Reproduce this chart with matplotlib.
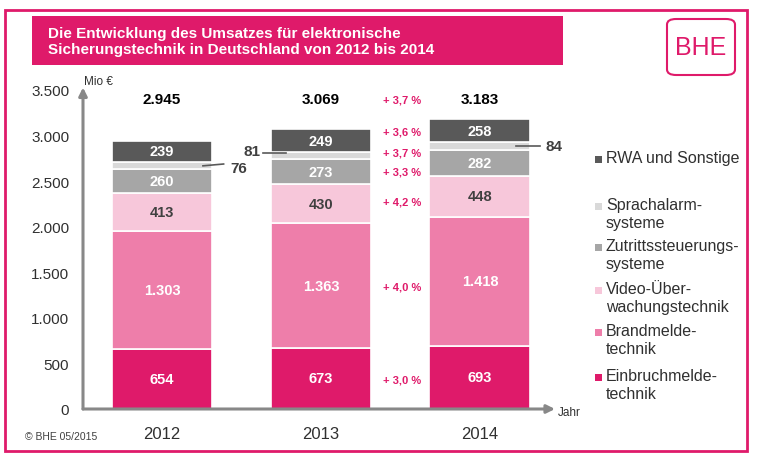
import matplotlib
matplotlib.use('Agg')
from matplotlib import pyplot as plt
from matplotlib.patches import Rectangle, FancyBboxPatch
import numpy as np

plt.rcParams['font.family'] = ['Liberation Sans', 'DejaVu Sans']

years = ['2012', '2013', '2014']
series_names = ['Einbruchmelde-\ntechnik', 'Brandmelde-\ntechnik', 'Video-Über-\nwachungstechnik',
                'Zutrittssteuerungs-\nsysteme', 'Sprachalarm-\nsysteme', 'RWA und Sonstige']
einbruch = [654, 673, 693]
brand = [1303, 1363, 1418]
video = [413, 430, 448]
zutritt = [260, 273, 282]
sprachalarm = [76, 81, 84]
rwa = [239, 249, 258]
totals = ['2.945', '3.069', '3.183']
growth_labels = ['+ 3,0 %', '+ 4,0 %', '+ 4,2 %', '+ 3,3 %', '+ 3,7 %', '+ 3,6 %']
growth_total = '+ 3,7 %'

PINK = '#DF1A6A'
colors = ['#DF1A6A', '#EE7EAA', '#F7C7DA', '#A6A6A6', '#D9D9D9', '#595959']
label_colors = ['white', 'white', '#404040', 'white', None, 'white']
TXT = '#303030'

W, H = 760, 464
fig = plt.figure(figsize=(W / 100, H / 100), dpi=100)


def fx(px):
    return px / W


def fy(py):
    return 1 - py / H


# outer frame and title box
fig.add_artist(Rectangle((fx(5), fy(452)), fx(747) - fx(5), fy(11) - fy(452), transform=fig.transFigure,
                         fill=False, edgecolor=PINK, linewidth=2))
fig.add_artist(Rectangle((fx(32), fy(66)), fx(563) - fx(32), fy(17) - fy(66), transform=fig.transFigure,
                         facecolor=PINK, edgecolor='none'))
fig.text(fx(48), fy(42), 'Die Entwicklung des Umsatzes für elektronische\nSicherungstechnik in Deutschland von 2012 bis 2014',
         color='white', fontsize=11, fontweight='bold', va='center', ha='left', linespacing=1.2)
fig.add_artist(FancyBboxPatch((fx(667), fy(76)), fx(735) - fx(667), fy(20) - fy(76), transform=fig.transFigure,
                              boxstyle='round,pad=0,rounding_size=0.012', fill=False, edgecolor=PINK, linewidth=1.5))
fig.text(fx(701), fy(48), 'BHE', color=PINK, fontsize=18, ha='center', va='center')

# chart axes
ax = fig.add_axes([fx(83), fy(410), fx(555) - fx(83), fy(91) - fy(410)])
ax.set_xlim(-0.497, 2.472)
ax.set_ylim(0, 3500)
for s in ax.spines.values():
    s.set_visible(False)
ax.set_yticks(np.arange(0, 3501, 500))
ax.set_yticklabels(['0', '500', '1.000', '1.500', '2.000', '2.500', '3.000', '3.500'])
ax.tick_params(axis='y', length=0, pad=10, labelsize=11, labelcolor=TXT)
ax.set_xticks(range(len(years)))
ax.set_xticklabels(years)
ax.tick_params(axis='x', length=0, pad=12, labelsize=12, labelcolor=TXT)

ax.annotate('', xy=(0, 1.008), xytext=(0, 0), xycoords='axes fraction',
            arrowprops=dict(arrowstyle='-|>', color='#888888', lw=2.2, mutation_scale=12, shrinkA=0, shrinkB=0))
ax.annotate('', xy=(1, 0), xytext=(0, 0), xycoords='axes fraction',
            arrowprops=dict(arrowstyle='-|>', color='#888888', lw=2.2, mutation_scale=12, shrinkA=0, shrinkB=0))
fig.text(fx(84), fy(82), 'Mio €', fontsize=8.5, color=TXT, va='center', ha='left')
fig.text(fx(558), fy(413), 'Jahr', fontsize=8.5, color=TXT, va='center', ha='left')
fig.text(fx(25), fy(437), '© BHE 05/2015', fontsize=7.5, color='#404040', va='center', ha='left')

x = np.arange(len(years))
bar_w = 0.635
data = [einbruch, brand, video, zutritt, sprachalarm, rwa]
bottom = np.zeros(len(years))
centers = []
for i, vals in enumerate(data):
    vals = np.array(vals, dtype=float)
    ax.bar(x, vals, bar_w, bottom=bottom, color=colors[i], edgecolor='white', linewidth=1.2, zorder=2)
    mids = bottom + vals / 2
    centers.append(mids)
    if label_colors[i] is not None:
        for xi, v, m in zip(x, vals, mids):
            txt = f'{int(v):,}'.replace(',', '.')
            ax.text(xi, m, txt, ha='center', va='center', fontsize=10.5, fontweight='bold',
                    color=label_colors[i], zorder=3)
    bottom = bottom + vals

# small sprachalarm values with leader lines
sp_mid = centers[4]
half = bar_w / 2
ax.plot([half - 0.06, half + 0.07], [sp_mid[0], sp_mid[0] + 20], color='#595959', lw=1.2, zorder=3)
ax.text(half + 0.115, sp_mid[0] - 20, str(sprachalarm[0]), ha='left', va='center', fontsize=11,
        fontweight='bold', color='#404040')
ax.plot([1 - half - 0.05, 1 - half + 0.1], [sp_mid[1] + 30, sp_mid[1] + 30], color='#595959', lw=1.2, zorder=3)
ax.text(1 - half - 0.06, sp_mid[1] + 50, str(sprachalarm[1]), ha='right', va='center', fontsize=11,
        fontweight='bold', color='#404040')
ax.plot([2 + half - 0.09, 2 + half + 0.06], [sp_mid[2], sp_mid[2]], color='#595959', lw=1.2, zorder=3)
ax.text(2 + half + 0.095, sp_mid[2], str(sprachalarm[2]), ha='left', va='center', fontsize=11,
        fontweight='bold', color='#404040')

# totals
for xi, t in zip(x, totals):
    ax.text(xi, 3400, t, ha='center', va='center', fontsize=11, fontweight='bold', color='black')

# growth rates between 2013 and 2014
pct_y = [320, 1345, 2282, 2602, 2811, 3043]
for lab, yy in zip(growth_labels, pct_y):
    ax.text(1.51, yy, lab, ha='center', va='center', fontsize=8, fontweight='bold', color=PINK)
ax.text(1.51, 3400, growth_total, ha='center', va='center', fontsize=8, fontweight='bold', color=PINK)

# legend
legend_y = [378, 333, 291, 248, 207, 160]
for name, c, ly in zip(series_names, colors, legend_y):
    fig.add_artist(Rectangle((fx(595), fy(ly + 4)), fx(7), fx(7) * W / H, transform=fig.transFigure,
                             facecolor=c, edgecolor='none'))
    fig.text(fx(606), fy(ly - 9), name, fontsize=11.5, color=TXT, ha='left', va='top', linespacing=1.25)

plt.savefig('out.png', dpi=100)
